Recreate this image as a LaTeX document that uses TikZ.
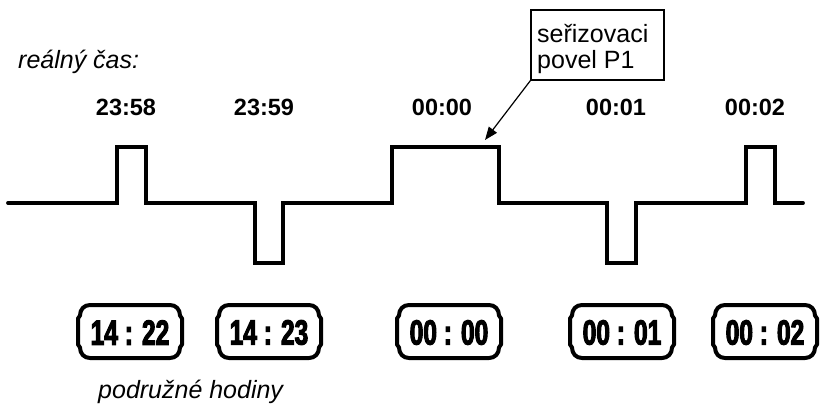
\documentclass[tikz,border=0pt]{standalone}
\usepackage{fontspec}
\setmainfont{Liberation Sans}
\newfontfamily\clockfont[FakeStretch=0.7,FakeBold=3]{Liberation Sans}
\usetikzlibrary{arrows.meta}
\tikzset{
  sig/.style={line width=3.8pt, line join=miter, line cap=round},
  timelbl/.style={font=\fontsize{23.5}{23.5}\selectfont\bfseries, inner sep=0pt, anchor=base},
  plainlbl/.style={font=\fontsize{25}{27}\selectfont\itshape, inner sep=0pt, anchor=base west},
  calloutbox/.style={draw, line width=1.2pt, minimum width=133pt, minimum height=70pt, inner sep=0pt},
  callouttext/.style={font=\fontsize{25}{27}\selectfont, inner sep=0pt, anchor=base west},
  clocktext/.style={font=\clockfont\bfseries\fontsize{35}{35}\selectfont, inner sep=0pt},
  pics/clockbox/.style={code={
    \draw[line width=4pt, line join=round]
      (-40,-26.5) -- (40,-26.5) .. controls (46,-26.5) and (50,-22) .. (50,-16)
      -- (52,-13) -- (52,13) -- (50,16)
      .. controls (50,22) and (46,26.5) .. (40,26.5) -- (-40,26.5)
      .. controls (-46,26.5) and (-50,22) .. (-50,16)
      -- (-52,13) -- (-52,-13) -- (-50,-16)
      .. controls (-50,-22) and (-46,-26.5) .. (-40,-26.5) -- cycle;
    \node[clocktext] (-t) at (0,1) {#1};
  }}
}
\begin{document}
\begin{tikzpicture}[x=1pt,y=-1pt]
\useasboundingbox (0,0) rectangle (820,407);
% label "real time"
\node[plainlbl] (rt) at (18,68) {reálný čas:};
% time labels
\node[timelbl] (l1) at (126,115) {23:58};
\node[timelbl] (l2) at (264,115) {23:59};
\node[timelbl] (l3) at (442,115) {00:00};
\node[timelbl] (l4) at (616,115) {00:01};
\node[timelbl] (l5) at (755,115) {00:02};
% signal
\draw[sig] (8,203) -- (117,203) -- (117,147) -- (146,147) -- (146,203)
  -- (255,203) -- (255,263) -- (283,263) -- (283,203)
  -- (392,203) -- (392,147) -- (499,147) -- (499,203)
  -- (607,203) -- (607,263) -- (636,263) -- (636,203)
  -- (746,203) -- (746,147) -- (775,147) -- (775,203) -- (803,203);
% callout
\node[calloutbox] (cmd) at (597.5,45) {};
\node[callouttext] (cmd1) at (537,42) {seřizovaci};
\node[callouttext] (cmd2) at (537,68) {povel P1};
\coordinate (tip) at (485,140);
\draw[line width=1.2pt, -{Triangle[length=13pt,width=10pt]}] (cmd.south west) -- (tip);
% slave clocks
\pic (c1) at (130,331.5) {clockbox={14 : 22}};
\pic (c2) at (269,331.5) {clockbox={14 : 23}};
\pic (c3) at (449,331.5) {clockbox={00 : 00}};
\pic (c4) at (622,331.5) {clockbox={00 : 01}};
\pic (c5) at (765,331.5) {clockbox={00 : 02}};
\node[plainlbl] (sub) at (98,398) {podružné hodiny};
\end{tikzpicture}
\end{document}
